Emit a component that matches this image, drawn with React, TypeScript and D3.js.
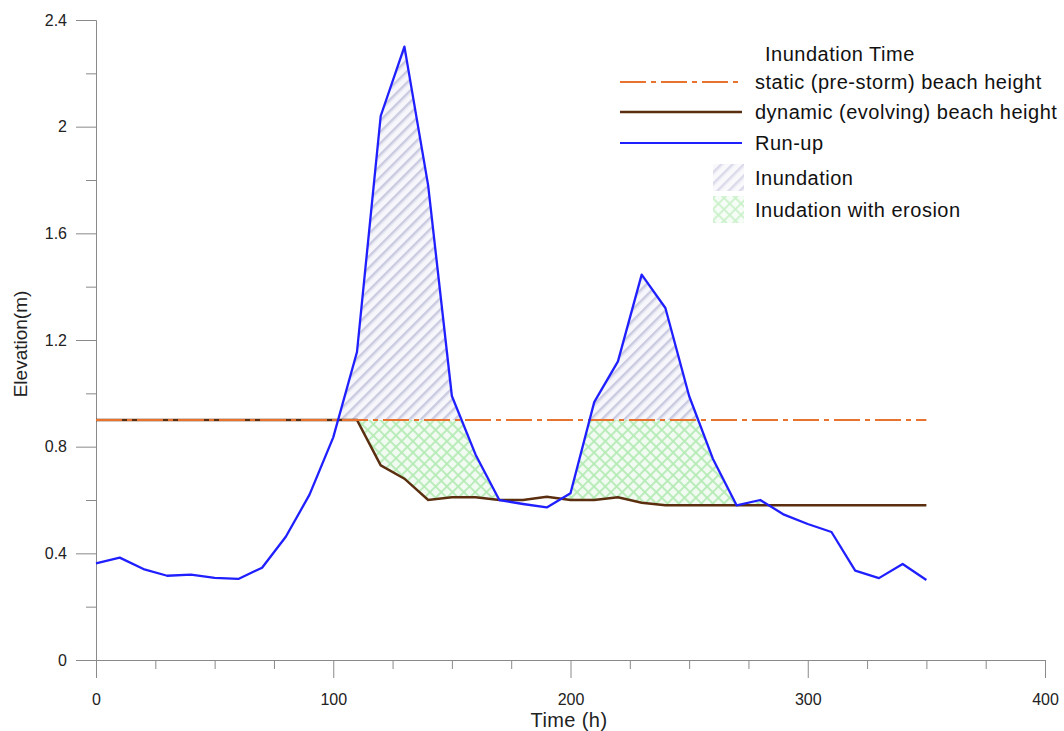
import React, { useEffect, useRef } from "react";
import * as d3 from "d3";

// time (h), sampled every 10 hours
const times = [
  0, 10, 20, 30, 40, 50, 60, 70, 80, 90, 100, 110, 120, 130, 140, 150, 160, 170,
  180, 190, 200, 210, 220, 230, 240, 250, 260, 270, 280, 290, 300, 310, 320, 330,
  340, 350,
];

// run-up elevation (m)
const runUp = [
  0.362, 0.384, 0.341, 0.316, 0.32, 0.308, 0.304, 0.346, 0.462, 0.62, 0.835,
  1.155, 2.04, 2.3, 1.78, 0.99, 0.77, 0.6, 0.585, 0.572, 0.625, 0.967, 1.12,
  1.445, 1.32, 0.99, 0.755, 0.58, 0.6, 0.545, 0.51, 0.48, 0.335, 0.307, 0.36,
  0.3,
];

// dynamic (evolving) beach height (m)
const dynamicHeight = [
  0.9, 0.9, 0.9, 0.9, 0.9, 0.9, 0.9, 0.9, 0.9, 0.9, 0.9, 0.9, 0.73, 0.68, 0.6,
  0.61, 0.61, 0.6, 0.6, 0.612, 0.6, 0.6, 0.61, 0.59, 0.58, 0.58, 0.58, 0.58,
  0.58, 0.58, 0.58, 0.58, 0.58, 0.58, 0.58, 0.58,
];

// static (pre-storm) beach height (m)
const staticHeight = 0.9;

const xMajorTicks = [0, 100, 200, 300, 400];
const xMinorTicks = [25, 50, 75, 125, 150, 175, 225, 250, 275, 325, 350, 375];
const yMajorTicks = [0, 0.4, 0.8, 1.2, 1.6, 2, 2.4];
const yMinorTicks = [0.2, 0.6, 1.0, 1.4, 1.8, 2.2];

const legendItems = [
  { label: "static (pre-storm) beach height", kind: "static" },
  { label: "dynamic (evolving) beach height", kind: "dynamic" },
  { label: "Run-up", kind: "runup" },
  { label: "Inundation", kind: "inundation" },
  { label: "Inudation with erosion", kind: "erosion" },
];

const FONT = "'Liberation Sans', Arial, sans-serif";
const BLUE = "#1f1fff";
const BROWN = "#5a2e0e";
const ORANGE = "#e8732e";

const InundationChart = () => {
  const ref = useRef<SVGSVGElement>(null);

  useEffect(() => {
    const width = 1064;
    const height = 731;

    const svg = d3.select(ref.current);
    svg.selectAll("*").remove();
    svg.attr("width", width).attr("height", height);

    const x = d3.scaleLinear().domain([0, 400]).range([96, 1045]);
    const y = d3.scaleLinear().domain([0, 2.4]).range([660, 20]);

    const pts = times.map((t, i) => ({ t, r: runUp[i], d: dynamicHeight[i] }));

    // patterns
    const defs = svg.append("defs");
    const hatch = defs
      .append("pattern")
      .attr("id", "hatch")
      .attr("patternUnits", "userSpaceOnUse")
      .attr("width", 8)
      .attr("height", 8)
      .attr("patternTransform", "rotate(-45)");
    hatch.append("rect").attr("width", 8).attr("height", 8).attr("fill", "#f6f6fb");
    hatch
      .append("line")
      .attr("x1", 0)
      .attr("x2", 8)
      .attr("y1", 2)
      .attr("y2", 2)
      .attr("stroke", "#b3b3d3")
      .attr("stroke-width", 1.3);
    hatch
      .append("line")
      .attr("x1", 0)
      .attr("x2", 8)
      .attr("y1", 3.8)
      .attr("y2", 3.8)
      .attr("stroke", "#d2d2e6")
      .attr("stroke-width", 0.8);

    const cross = defs
      .append("pattern")
      .attr("id", "cross")
      .attr("patternUnits", "userSpaceOnUse")
      .attr("width", 8)
      .attr("height", 8)
      .attr("patternTransform", "rotate(45)");
    cross.append("rect").attr("width", 8).attr("height", 8).attr("fill", "#f2fbf2");
    cross
      .append("line")
      .attr("x1", 0)
      .attr("x2", 8)
      .attr("y1", 4)
      .attr("y2", 4)
      .attr("stroke", "#b5ebb5")
      .attr("stroke-width", 1.8);
    cross
      .append("line")
      .attr("x1", 4)
      .attr("x2", 4)
      .attr("y1", 0)
      .attr("y2", 8)
      .attr("stroke", "#b5ebb5")
      .attr("stroke-width", 1.8);

    // clip paths
    defs
      .append("clipPath")
      .attr("id", "aboveStatic")
      .append("rect")
      .attr("x", x(0))
      .attr("y", y(2.4))
      .attr("width", x(400) - x(0))
      .attr("height", y(staticHeight) - y(2.4));
    defs
      .append("clipPath")
      .attr("id", "belowStatic")
      .append("rect")
      .attr("x", x(0))
      .attr("y", y(staticHeight))
      .attr("width", x(400) - x(0))
      .attr("height", y(0) - y(staticHeight));
    defs
      .append("clipPath")
      .attr("id", "aboveDynamic")
      .append("path")
      .attr(
        "d",
        d3
          .area<any>()
          .x((p) => x(p.t))
          .y0((p) => y(p.d))
          .y1(y(2.4))(pts)
      );

    // inundation (run-up above static height)
    svg
      .append("path")
      .attr("clip-path", "url(#aboveStatic)")
      .attr(
        "d",
        d3
          .area<any>()
          .x((p) => x(p.t))
          .y0(y(staticHeight))
          .y1((p) => y(p.r))(pts)
      )
      .attr("fill", "url(#hatch)");

    // inundation with erosion (run-up above dynamic height, below static)
    svg
      .append("g")
      .attr("clip-path", "url(#belowStatic)")
      .append("g")
      .attr("clip-path", "url(#aboveDynamic)")
      .append("path")
      .attr(
        "d",
        d3
          .area<any>()
          .x((p) => x(p.t))
          .y0((p) => y(p.d))
          .y1((p) => y(p.r))(pts)
      )
      .attr("fill", "url(#cross)");

    // axes
    const axisStyle = (g: any) => {
      g.select(".domain").attr("stroke", "#8a8a8a");
      g.selectAll(".tick line").attr("stroke", "#8a8a8a");
      g.selectAll(".tick text")
        .attr("fill", "#222")
        .style("font-family", FONT)
        .style("font-size", "16px");
    };

    svg
      .append("g")
      .attr("transform", `translate(0,${y(0)})`)
      .call(d3.axisBottom(x).tickValues(xMinorTicks).tickSize(9).tickFormat(() => "").tickSizeOuter(0))
      .call(axisStyle);
    svg
      .append("g")
      .attr("transform", `translate(0,${y(0)})`)
      .call(
        d3
          .axisBottom(x)
          .tickValues(xMajorTicks)
          .tickSize(18)
          .tickPadding(16)
          .tickSizeOuter(0)
          .tickFormat(d3.format("d"))
      )
      .call(axisStyle);

    svg
      .append("g")
      .attr("transform", `translate(${x(0)},0)`)
      .call(d3.axisLeft(y).tickValues(yMinorTicks).tickSize(10).tickFormat(() => "").tickSizeOuter(0))
      .call(axisStyle);
    svg
      .append("g")
      .attr("transform", `translate(${x(0)},0)`)
      .call(
        d3
          .axisLeft(y)
          .tickValues(yMajorTicks)
          .tickSize(20)
          .tickPadding(9)
          .tickSizeOuter(0)
          .tickFormat((d: any) => String(d))
      )
      .call(axisStyle);

    // axis titles
    svg
      .append("text")
      .attr("x", 569)
      .attr("y", 727)
      .attr("text-anchor", "middle")
      .style("font-family", FONT)
      .style("font-size", "20px")
      .style("letter-spacing", "0.4px")
      .attr("fill", "#222")
      .text("Time (h)");
    svg
      .append("text")
      .attr("transform", `translate(27,344) rotate(-90)`)
      .attr("text-anchor", "middle")
      .style("font-family", FONT)
      .style("font-size", "19px")
      .attr("fill", "#222")
      .text("Elevation(m)");

    // lines
    const line = (acc: (p: any) => number) =>
      d3
        .line<any>()
        .x((p) => x(p.t))
        .y((p) => y(acc(p)));

    svg
      .append("path")
      .attr("d", line((p) => p.d)(pts))
      .attr("fill", "none")
      .attr("stroke", BROWN)
      .attr("stroke-width", 2.5);

    svg
      .append("path")
      .attr("d", line(() => staticHeight)(pts))
      .attr("fill", "none")
      .attr("stroke", ORANGE)
      .attr("stroke-width", 2)
      .attr("stroke-dasharray", "26 5 5 5");

    svg
      .append("path")
      .attr("d", line((p) => p.r)(pts))
      .attr("fill", "none")
      .attr("stroke", BLUE)
      .attr("stroke-width", 2.3)
      .attr("stroke-linejoin", "round");

    // legend
    const legend = svg
      .append("g")
      .style("font-family", FONT)
      .style("font-size", "20px")
      .style("letter-spacing", "0.5px");
    legend
      .append("text")
      .attr("x", 765)
      .attr("y", 61)
      .attr("fill", "#111")
      .text("Inundation Time");

    const rowY = [82, 112, 143, 178, 210];
    legendItems.forEach((item, i) => {
      const cy = rowY[i];
      if (item.kind === "static" || item.kind === "dynamic" || item.kind === "runup") {
        legend
          .append("line")
          .attr("x1", 620)
          .attr("x2", 742)
          .attr("y1", cy)
          .attr("y2", cy)
          .attr(
            "stroke",
            item.kind === "static" ? ORANGE : item.kind === "dynamic" ? BROWN : BLUE
          )
          .attr("stroke-width", item.kind === "dynamic" ? 2.5 : 2)
          .attr("stroke-dasharray", item.kind === "static" ? "26 5 5 5" : null);
      } else {
        legend
          .append("rect")
          .attr("x", 713)
          .attr("y", cy - 14)
          .attr("width", 31)
          .attr("height", 27)
          .attr("opacity", 0.7)
          .attr("fill", item.kind === "inundation" ? "url(#hatch)" : "url(#cross)");
      }
      legend
        .append("text")
        .attr("x", 755)
        .attr("y", cy + 7)
        .attr("fill", "#111")
        .text(item.label);
    });
  }, []);

  return <svg ref={ref} style={{ position: "absolute", left: 0, top: 0 }} />;
};

export default function App() {
  return <InundationChart />;
}
